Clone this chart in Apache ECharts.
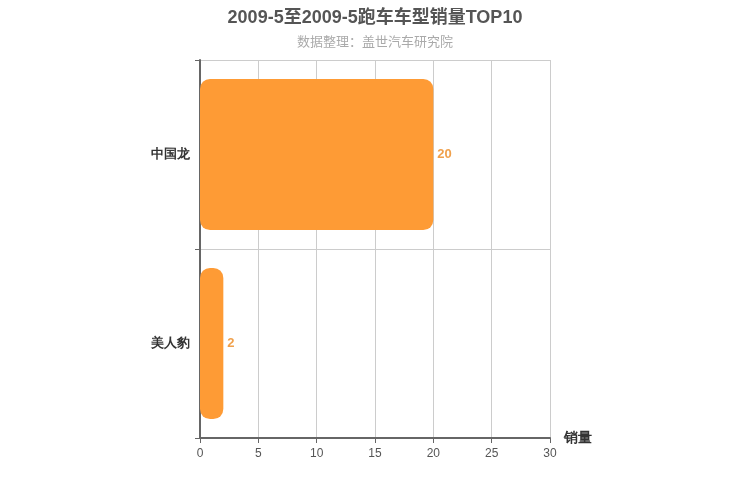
<!DOCTYPE html>
<html>
<head>
<meta charset="utf-8">
<script src="https://cdn.jsdelivr.net/npm/echarts@6/dist/echarts.min.js"></script>
<style>
html,body{margin:0;padding:0;background:#fff;}
#main{width:750px;height:500px;}
</style>
</head>
<body>
<div id="main"></div>
<script>
var titleText = '2009-5至2009-5跑车车型销量TOP10';
var subText = '数据整理：盖世汽车研究院';
var models = ['美人豹', '中国龙'];   // bottom to top
var sales = [2, 20];

var chart = echarts.init(document.getElementById('main'));
chart.setOption({
    backgroundColor: '#fff',
    title: {
        text: titleText,
        subtext: subText,
        left: 'center',
        top: 4,
        itemGap: 9,
        textStyle: {fontSize: 18, fontWeight: 'bold', color: '#555', fontFamily: 'Arial, "Noto Sans CJK SC", sans-serif'},
        subtextStyle: {fontSize: 13, color: '#aaa', fontFamily: 'Arial, "Noto Sans CJK SC", sans-serif'}
    },
    grid: {left: 200, right: 200, top: 60, bottom: 62},
    xAxis: {
        type: 'value',
        min: 0,
        max: 30,
        interval: 5,
        name: '销量',
        nameGap: 14,
        nameTextStyle: {fontSize: 14, fontWeight: 'bold', color: '#333', verticalAlign: 'middle'},
        axisLine: {show: true, lineStyle: {color: '#666', width: 2}},
        axisTick: {show: true, length: 5, lineStyle: {color: '#666'}},
        axisLabel: {color: '#555', fontSize: 12, margin: 10},
        splitLine: {show: true, lineStyle: {color: '#ccc'}}
    },
    yAxis: {
        type: 'category',
        data: models,
        axisLine: {show: true, lineStyle: {color: '#666', width: 2}},
        axisTick: {show: true, length: 5, lineStyle: {color: '#666'}},
        axisLabel: {color: '#333', fontSize: 13, fontWeight: 'bold', margin: 10, padding: [3, 0, 0, 0]},
        splitLine: {show: true, lineStyle: {color: '#ccc'}}
    },
    series: [{
        type: 'bar',
        data: sales,
        barWidth: '80%',
        itemStyle: {color: '#fe9b35', borderRadius: 10},
        label: {show: true, position: 'right', color: '#f0a04b', fontSize: 13, fontWeight: 'bold', distance: 4, padding: [3, 0, 0, 0]}
    }]
});
</script>
</body>
</html>
